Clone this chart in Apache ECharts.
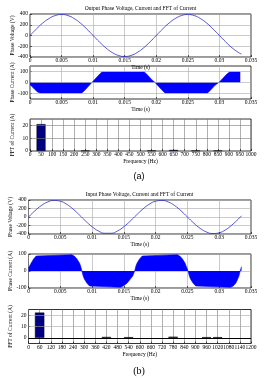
<!DOCTYPE html>
<html>
<head>
<meta charset="utf-8">
<script src="https://cdn.jsdelivr.net/npm/echarts@6/dist/echarts.min.js"></script>
<style>
html, body { margin: 0; padding: 0; background: #fff; }
#chart { width: 271px; height: 379px; }
</style>
</head>
<body>
<div id="chart"></div>
<script>
// voltage samples (s)
var timeV = [0, 0.001, 0.002, 0.003, 0.004, 0.005, 0.006, 0.007, 0.008, 0.009,
  0.010, 0.011, 0.012, 0.013, 0.014, 0.015, 0.016, 0.017, 0.018, 0.019,
  0.020, 0.021, 0.022, 0.023, 0.024, 0.025, 0.026, 0.027, 0.028, 0.029,
  0.030, 0.031, 0.032, 0.033, 0.0335]
var outVoltage = [0, 120, 229, 315, 371, 390, 371, 315, 229, 120,
  0, -120, -229, -315, -371, -390, -371, -315, -229, -120,
  0, 120, 229, 315, 371, 390, 371, 315, 229, 120,
  0, -120, -229, -315, -347]
var inVoltage = [0, 144, 267, 353, 389, 371, 301, 188, 49, -97,
  -229, -329, -383, -383, -329, -229, -97, 49, 188, 301,
  371, 389, 353, 267, 144, 0, -144, -267, -353, -389,
  -371, -301, -188, -49, 28]

// current envelopes
var outCurTime = [0, 0.0004, 0.0008, 0.0012, 0.0016, 0.0082, 0.0086, 0.009, 0.0094, 0.0098,
  0.0102, 0.0106, 0.011, 0.0114, 0.0181, 0.0185, 0.0189, 0.0193, 0.0198, 0.0202,
  0.0206, 0.021, 0.0214, 0.0281, 0.0285, 0.0289, 0.0293, 0.0299, 0.0303, 0.0307,
  0.0311, 0.0314, 0.0316, 0.0333]
var outCurrent = [-20, -42, -65, -86, -96, -96, -75, -50, -25, 0,
  25, 50, 75, 96, 96, 75, 50, 25, 0, -25,
  -50, -75, -96, -96, -75, -50, -25, 0, 22, 48,
  72, 85, 96, 96]
var inCurTime = [0, 0.0004, 0.0008, 0.0012, 0.0015, 0.0068, 0.0072, 0.0076, 0.008, 0.0082,
  0.0084, 0.0086, 0.0088, 0.0092, 0.0096, 0.0099, 0.0145, 0.0149, 0.0155, 0.016,
  0.0164, 0.0167, 0.0169, 0.0171, 0.0175, 0.0179, 0.0182, 0.0234, 0.0238, 0.0242,
  0.0246, 0.0248, 0.0251, 0.0253, 0.0255, 0.0259, 0.0263, 0.0266, 0.0318, 0.0322,
  0.0326, 0.0329, 0.0331, 0.0333, 0.0335]
var inCurrent = [18, 45, 70, 88, 96, 96, 88, 72, 48, 30,
  0, -30, -48, -72, -88, -96, -96, -88, -72, -48,
  -30, 0, 30, 48, 72, 88, 96, 96, 88, 72,
  48, 30, 0, -30, -48, -72, -88, -96, -96, -88,
  -72, -48, -30, 0, 25]

// FFT bars
var outFftFreq = [50, 250, 550, 650, 750, 850]
var outFftMag = [21, 0.3, 0.4, 0.8, 0.3, 0.3]
var inFftFreq = [60, 420, 540, 780, 960, 1020]
var inFftMag = [22.3, 0.8, 0.6, 1.0, 0.6, 0.6]

var curTicks = [-100, 0, 100]
var fftTicks = [0, 10, 20]

var FONT = 'Liberation Serif'
var GRID = '#a8a8a8'
var GRID_DARK = '#7a7a7a'

function zip (xs, ys) {
  return xs.map(function (x, i) { return [x, ys[i]] })
}

function plain (v) {
  return String(v)
}

function xAxis (gi, max, interval, name, gridColor) {
  return {
    type: 'value', gridIndex: gi, min: 0, max: max, interval: interval,
    name: name, nameLocation: 'middle', nameGap: 8, nameMoveOverlap: false,
    nameTextStyle: { fontFamily: FONT, fontSize: 5.5, color: '#000' },
    axisLine: { show: false, onZero: false },
    axisTick: { show: true, inside: true, length: 2, lineStyle: { color: '#000', width: 0.6 } },
    axisLabel: {
      fontFamily: FONT, fontSize: 5.5, color: '#000', margin: 1,
      showMaxLabel: true, showMinLabel: true, hideOverlap: false, formatter: plain
    },
    splitLine: { show: true, lineStyle: { color: gridColor || GRID, width: 0.6 } }
  }
}

function yAxis (gi, min, max, interval, name, shown) {
  var ax = {
    type: 'value', gridIndex: gi, min: min, max: max, interval: interval,
    name: name, nameLocation: 'middle', nameGap: 14.5, nameRotate: 90, nameMoveOverlap: false,
    nameTextStyle: { fontFamily: FONT, fontSize: 5.5, color: '#000' },
    axisLine: { show: false, onZero: false },
    axisTick: { show: true, inside: true, length: 2, lineStyle: { color: '#000', width: 0.6 } },
    axisLabel: { fontFamily: FONT, fontSize: 5.5, color: '#000', margin: 2, formatter: plain },
    splitLine: { show: !shown, lineStyle: { color: GRID, width: 0.6 } }
  }
  if (shown) {
    ax.axisTick.customValues = shown
    ax.axisLabel.formatter = function (v) { return shown.indexOf(v) >= 0 ? String(v) : '' }
  }
  return ax
}

function grid (left, top, height) {
  return { left: left, top: top, right: 20, height: height, show: true, borderColor: '#000', borderWidth: 0.8 }
}

function gridLines (xi, vals, color, width) {
  return {
    type: 'line', xAxisIndex: xi, yAxisIndex: xi, data: [], z: 1, silent: true,
    markLine: {
      silent: true, symbol: 'none', animation: false,
      label: { show: false },
      lineStyle: { color: color || GRID, width: width || 0.6, type: 'solid' },
      data: vals.map(function (v) { return { yAxis: v } })
    }
  }
}

var chart = echarts.init(document.getElementById('chart'))

var option = {
  animation: false,
  backgroundColor: '#fff',
  graphic: [
    { type: 'text', x: 140.5, y: 9, style: { text: 'Output Phase Voltage, Current and FFT of Current', font: '5.5px "Liberation Serif"', fill: '#000', align: 'center', verticalAlign: 'middle' } },
    { type: 'text', x: 139.5, y: 195, style: { text: 'Input Phase Voltage, Current and FFT of Current', font: '5.5px "Liberation Serif"', fill: '#000', align: 'center', verticalAlign: 'middle' } },
    { type: 'text', x: 139, y: 177, style: { text: '(a)', font: '9px "Liberation Sans"', fill: '#000', align: 'center', verticalAlign: 'middle' } },
    { type: 'text', x: 139, y: 371, style: { text: '(b)', font: '10px "Liberation Serif"', fill: '#000', align: 'center', verticalAlign: 'middle' } }
  ],
  grid: [
    grid(30, 14, 43),
    grid(30, 66, 33),
    grid(30, 119, 32),
    grid(28, 200, 34),
    grid(28, 254, 34),
    grid(28, 309.5, 34)
  ],
  xAxis: [
    xAxis(0, 0.035, 0.005, 'Time (s)'),
    xAxis(1, 0.035, 0.005, 'Time (s)'),
    xAxis(2, 1000, 50, 'Frequency (Hz)', GRID_DARK),
    xAxis(3, 0.035, 0.005, 'Time (s)'),
    xAxis(4, 0.035, 0.005, 'Time (s)'),
    xAxis(5, 1200, 60, 'Frequency (Hz)', GRID_DARK)
  ],
  yAxis: [
    yAxis(0, -400, 400, 200, 'Phase Voltage (V)'),
    yAxis(1, -150, 150, 50, 'Phase Current (A)', curTicks),
    yAxis(2, 0, 25, 5, 'FFT of Current (A)', fftTicks),
    yAxis(3, -400, 400, 200, 'Phase Voltage (V)'),
    yAxis(4, -100, 100, 100, 'Phase Current (A)'),
    yAxis(5, -5, 25, 5, 'FFT of Current (A)', fftTicks)
  ],
  series: [
    {
      type: 'line', xAxisIndex: 0, yAxisIndex: 0, data: zip(timeV, outVoltage),
      smooth: true, showSymbol: false, lineStyle: { color: '#2b2bcc', width: 0.8 }
    },
    gridLines(1, curTicks),
    {
      type: 'line', xAxisIndex: 1, yAxisIndex: 1, data: zip(outCurTime, outCurrent), z: 2,
      showSymbol: false, lineStyle: { color: '#0000ff', width: 0.6 },
      areaStyle: { color: '#0000ff', opacity: 1 }
    },
    gridLines(2, [10, 20], GRID_DARK),
    {
      type: 'bar', xAxisIndex: 2, yAxisIndex: 2, data: zip(outFftFreq, outFftMag), barWidth: 9, z: 2,
      itemStyle: { color: '#000080', borderColor: '#000', borderWidth: 0.5 }
    },
    {
      type: 'line', xAxisIndex: 3, yAxisIndex: 3, data: zip(timeV, inVoltage),
      smooth: true, showSymbol: false, lineStyle: { color: '#2b2bcc', width: 0.8 }
    },
    {
      type: 'line', xAxisIndex: 4, yAxisIndex: 4, data: zip(inCurTime, inCurrent),
      showSymbol: false, lineStyle: { color: '#0000ff', width: 0.6 },
      areaStyle: { color: '#0000ff', opacity: 1 }
    },
    gridLines(5, [10, 20]),
    {
      type: 'bar', xAxisIndex: 5, yAxisIndex: 5, data: zip(inFftFreq, inFftMag), barWidth: 9.4, z: 2,
      itemStyle: { color: '#000080', borderColor: '#000', borderWidth: 0.5 },
      markLine: {
        silent: true, symbol: 'none', animation: false, label: { show: false },
        lineStyle: { color: '#000', width: 1, type: 'solid' },
        data: [{ yAxis: 0 }]
      }
    }
  ]
}

chart.setOption(option)
</script>
</body>
</html>
